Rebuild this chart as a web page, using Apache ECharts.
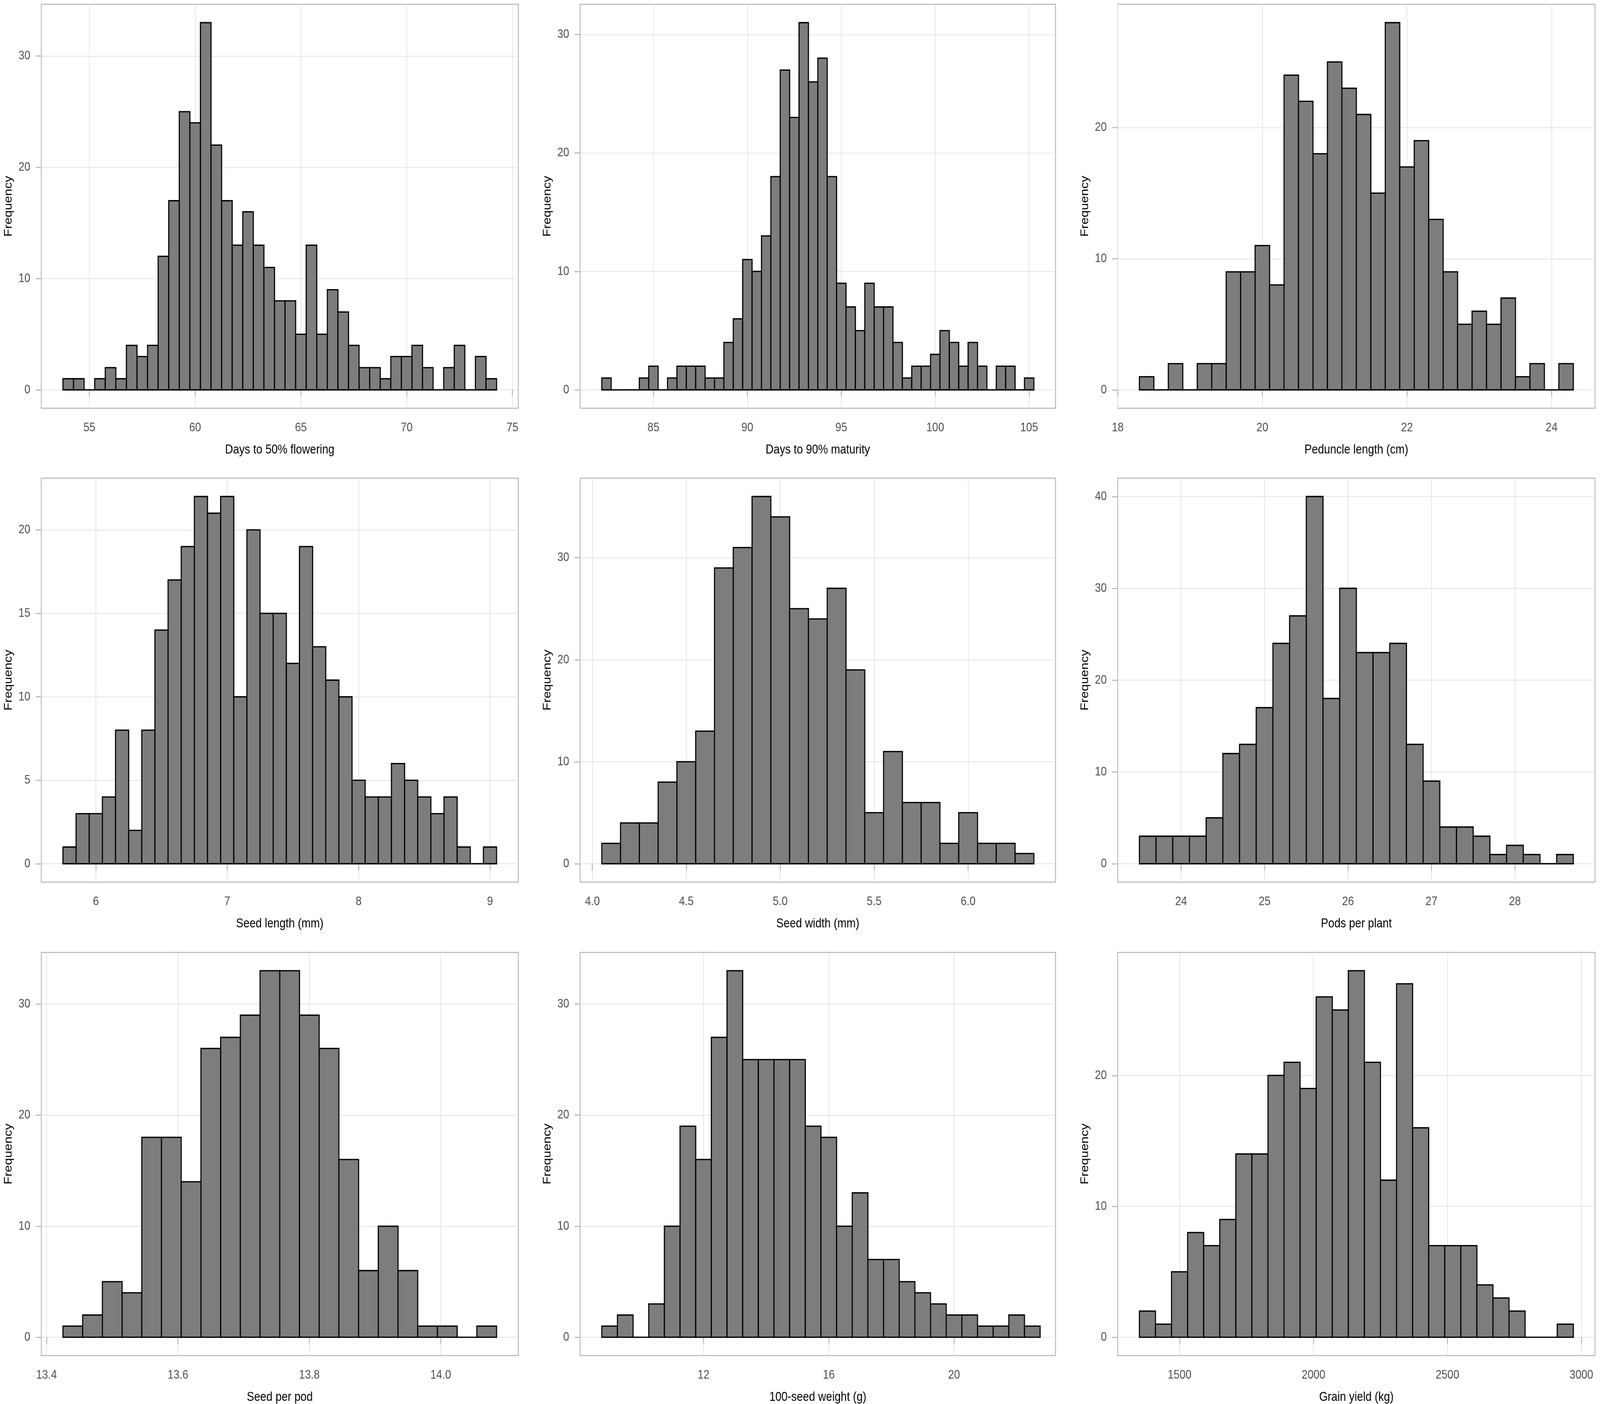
<!DOCTYPE html>
<html>
<head>
<meta charset="utf-8">
<script src="https://cdn.jsdelivr.net/npm/echarts@6/dist/echarts.min.js"></script>
<style>
html,body{margin:0;padding:0;background:#fff;overflow:hidden;}
#wrap{position:absolute;left:0;top:0;overflow:hidden;}
#chart{position:absolute;left:0;top:0;width:4807px;height:3594px;transform-origin:0 0;}
</style>
</head>
<body>
<div id="wrap"><div id="chart"></div></div>
<script>
// ---------- Data (bin centres and counts) ----------
const flowering_bins = [54,54.5,55,55.5,56,56.5,57,57.5,58,58.5,59,59.5,60,60.5,61,61.5,62,62.5,63,63.5,64,64.5,65,65.5,66,66.5,67,67.5,68,68.5,69,69.5,70,70.5,71,71.5,72,72.5,73,73.5,74];
const flowering_counts = [1,1,0,1,2,1,4,3,4,12,17,25,24,33,22,17,13,16,13,11,8,8,5,13,5,9,7,4,2,2,1,3,3,4,2,0,2,4,0,3,1];

const maturity_bins = [82.5,83,83.5,84,84.5,85,85.5,86,86.5,87,87.5,88,88.5,89,89.5,90,90.5,91,91.5,92,92.5,93,93.5,94,94.5,95,95.5,96,96.5,97,97.5,98,98.5,99,99.5,100,100.5,101,101.5,102,102.5,103,103.5,104,104.5,105];
const maturity_counts = [1,0,0,0,1,2,0,1,2,2,2,1,1,4,6,11,10,13,18,27,23,31,26,28,18,9,7,5,9,7,7,4,1,2,2,3,5,4,2,4,2,0,2,2,0,1];

const peduncle_bins = [18.4,18.6,18.8,19.0,19.2,19.4,19.6,19.8,20.0,20.2,20.4,20.6,20.8,21.0,21.2,21.4,21.6,21.8,22.0,22.2,22.4,22.6,22.8,23.0,23.2,23.4,23.6,23.8,24.0,24.2];
const peduncle_counts = [1,0,2,0,2,2,9,9,11,8,24,22,18,25,23,21,15,28,17,19,13,9,5,6,5,7,1,2,0,2];

const seedLength_bins = [5.8,5.9,6.0,6.1,6.2,6.3,6.4,6.5,6.6,6.7,6.8,6.9,7.0,7.1,7.2,7.3,7.4,7.5,7.6,7.7,7.8,7.9,8.0,8.1,8.2,8.3,8.4,8.5,8.6,8.7,8.8,8.9,9.0];
const seedLength_counts = [1,3,3,4,8,2,8,14,17,19,22,21,22,10,20,15,15,12,19,13,11,10,5,4,4,6,5,4,3,4,1,0,1];

const seedWidth_bins = [4.1,4.2,4.3,4.4,4.5,4.6,4.7,4.8,4.9,5.0,5.1,5.2,5.3,5.4,5.5,5.6,5.7,5.8,5.9,6.0,6.1,6.2,6.3];
const seedWidth_counts = [2,4,4,8,10,13,29,31,36,34,25,24,27,19,5,11,6,6,2,5,2,2,1];

const pods_bins = [23.6,23.8,24.0,24.2,24.4,24.6,24.8,25.0,25.2,25.4,25.6,25.8,26.0,26.2,26.4,26.6,26.8,27.0,27.2,27.4,27.6,27.8,28.0,28.2,28.4,28.6];
const pods_counts = [3,3,3,3,5,12,13,17,24,27,40,18,30,23,23,24,13,9,4,4,3,1,2,1,0,1];

const seedPod_bins = [13.44,13.47,13.50,13.53,13.56,13.59,13.62,13.65,13.68,13.71,13.74,13.77,13.80,13.83,13.86,13.89,13.92,13.95,13.98,14.01,14.04,14.07];
const seedPod_counts = [1,2,5,4,18,18,14,26,27,29,33,33,29,26,16,6,10,6,1,1,0,1];

const weight_bins = [9.0,9.5,10.0,10.5,11.0,11.5,12.0,12.5,13.0,13.5,14.0,14.5,15.0,15.5,16.0,16.5,17.0,17.5,18.0,18.5,19.0,19.5,20.0,20.5,21.0,21.5,22.0,22.5];
const weight_counts = [1,2,0,3,10,19,16,27,33,25,25,25,25,19,18,10,13,7,7,5,4,3,2,2,1,1,2,1];

const yield_bins = [1380,1440,1500,1560,1620,1680,1740,1800,1860,1920,1980,2040,2100,2160,2220,2280,2340,2400,2460,2520,2580,2640,2700,2760,2820,2880,2940];
const yield_counts = [2,1,5,8,7,9,14,14,20,21,19,26,25,28,21,12,27,16,7,7,7,4,3,2,0,0,1];

// bin widths
const binWidths = [0.5, 0.5, 0.2, 0.1, 0.1, 0.2, 0.03, 0.5, 60];

// axis titles
const xTitles = ["Days to 50% flowering","Days to 90% maturity","Peduncle length (cm)","Seed length (mm)","Seed width (mm)","Pods per plant","Seed per pod","100-seed weight (g)","Grain yield (kg)"];
const yTitle = "Frequency";

// tick labels
const xTicks = [[55,60,65,70,75],[85,90,95,100,105],[18,20,22,24],[6,7,8,9],[4.0,4.5,5.0,5.5,6.0],[24,25,26,27,28],[13.4,13.6,13.8,14.0],[12,16,20],[1500,2000,2500,3000]];
const xTickDecimals = [0,0,0,0,1,0,1,0,0];
const yTicks = [[0,10,20,30],[0,10,20,30],[0,10,20],[0,5,10,15,20],[0,10,20,30],[0,10,20,30,40],[0,10,20,30],[0,10,20,30],[0,10,20]];

// axis ranges (ggplot-style expanded)
const xRanges = [[52.725,75.275],[81.1,106.4],[18.0,24.6],[5.585,9.215],[3.935,6.465],[23.24,28.96],[13.392,14.118],[8.06,23.24],[1269,3051]];
const yRanges = [[-1.65,34.65],[-1.55,32.55],[-1.4,29.4],[-1.1,23.1],[-1.8,37.8],[-2,42],[-1.65,34.65],[-1.65,34.65],[-1.4,29.4]];

const allBins = [flowering_bins,maturity_bins,peduncle_bins,seedLength_bins,seedWidth_bins,pods_bins,seedPod_bins,weight_bins,yield_bins];
const allCounts = [flowering_counts,maturity_counts,peduncle_counts,seedLength_counts,seedWidth_counts,pods_counts,seedPod_counts,weight_counts,yield_counts];

// ---------- Layout: drawn at 4807 x 3594, fitted to the viewport ----------
const REF_W = 4807, REF_H = 3594;
const VW = window.innerWidth || REF_W, VH = window.innerHeight || REF_H;
const wrap = document.getElementById('wrap');
wrap.style.width = VW + 'px';
wrap.style.height = VH + 'px';
const el = document.getElementById('chart');
if (VW !== REF_W || VH !== REF_H) {
  el.style.transform = 'scale(' + (VW / REF_W) + ',' + (VH / REF_H) + ')';
}

const colLeft = [124, 1743, 3358];
const colWidth = [1433, 1428, 1434];
const rowTop = [11, 1224, 2438];
const rowHeight = 1034;

const FONT = "'Liberation Sans', Arial, 'DejaVu Sans', sans-serif";
const chart = echarts.init(el, null, {renderer: 'canvas', width: REF_W, height: REF_H});

const grids = [], xAxes = [], yAxes = [], series = [];
for (let i = 0; i < 9; i++) {
  const r = Math.floor(i / 3), c = i % 3;
  grids.push({left: colLeft[c], top: rowTop[r], width: colWidth[c], height: rowHeight,
    show: true, borderColor: '#b3b3b3', borderWidth: 2.5, backgroundColor: '#ffffff', containLabel: false});
  const dec = xTickDecimals[i];
  xAxes.push({
    type: 'value', gridIndex: i, min: xRanges[i][0], max: xRanges[i][1],
    name: xTitles[i], nameLocation: 'middle', nameGap: 90,
    nameTextStyle: {fontFamily: FONT, fontSize: 33, color: '#000'},
    axisLine: {show: false},
    axisTick: {show: true, inside: false, length: 17, lineStyle: {color: '#b3b3b3', width: 2.5}, customValues: xTicks[i]},
    axisLabel: {show: true, margin: 34, fontFamily: FONT, fontSize: 32, color: '#4d4d4d', customValues: xTicks[i],
      formatter: (v) => Number(v).toFixed(dec)},
    splitLine: {show: true, lineStyle: {color: '#e4e4e4', width: 2.2}}
  });
  yAxes.push({
    type: 'value', gridIndex: i, min: yRanges[i][0], max: yRanges[i][1],
    name: yTitle, nameLocation: 'middle', nameGap: 82, nameRotate: 90,
    nameTextStyle: {fontFamily: FONT, fontSize: 33, color: '#000'},
    axisLine: {show: false},
    axisTick: {show: true, inside: false, length: 17, lineStyle: {color: '#b3b3b3', width: 2.5}, customValues: yTicks[i]},
    axisLabel: {show: true, margin: 33, fontFamily: FONT, fontSize: 32, color: '#4d4d4d', customValues: yTicks[i],
      formatter: (v) => String(Math.round(v))},
    splitLine: {show: true, lineStyle: {color: '#e4e4e4', width: 2.2}}
  });
  const w = binWidths[i];
  const data = allBins[i].map((b, k) => [b, allCounts[i][k], w]);
  series.push({
    type: 'custom', xAxisIndex: i, yAxisIndex: i, data: data,
    encode: {x: 0, y: 1},
    renderItem: function (params, api) {
      const ctr = api.value(0), n = api.value(1), bw = api.value(2);
      const p0 = api.coord([ctr - bw / 2, n]);
      const p1 = api.coord([ctr + bw / 2, 0]);
      return {
        type: 'rect',
        shape: {x: p0[0], y: p0[1], width: p1[0] - p0[0], height: p1[1] - p0[1]},
        style: {fill: '#7d7d7d', stroke: '#000000', lineWidth: 3.3}
      };
    }
  });
}

chart.setOption({
  backgroundColor: '#ffffff',
  animation: false,
  grid: grids,
  xAxis: xAxes,
  yAxis: yAxes,
  series: series
});
</script>
</body>
</html>
